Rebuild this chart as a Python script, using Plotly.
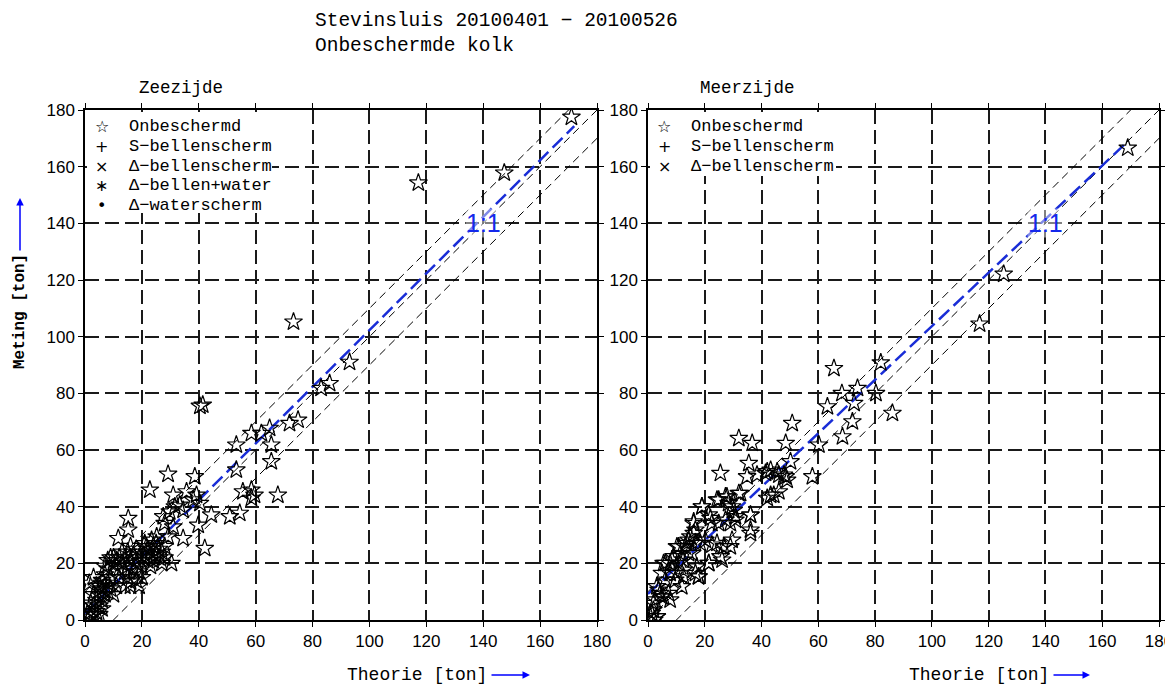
import plotly.graph_objects as go

# ---------------- data ----------------
# Zeezijde: Theorie [ton] vs Meting [ton]
zee_theorie = [171, 147.4, 117.2, 73.3, 41.4, 40.4, 93, 83, 86, 74.9, 71.9, 64.9, 62, 58.5, 53.2, 65.5,
               53.2, 65.5, 29.2, 38.6, 22.8, 31, 35.7, 39.2, 55.5, 58.5, 59.6, 58.5, 67.8, 33.3, 38, 40.4,
               44.4, 50.9, 54.4, 39.8, 42.1, 15.2, 15.2, 11.7, 27.5, 29.8, 31.6, 34.5, 28, 31, 29.2, 34.5,
               30.4, 25.2, 23.4, 21.6, 16,
               5, 6, 7, 7, 8, 9, 8, 10, 10, 11, 12, 12, 13, 13, 14, 14, 15, 15, 16, 16, 17, 17, 18, 18,
               19, 19, 20, 20, 21, 21, 22, 22, 23, 23, 24, 24, 25, 25, 26, 26, 27, 27, 28, 28, 12, 14, 15,
               16, 11, 9, 10, 18, 19, 20,
               1, 2, 2, 3, 3, 4, 4, 5, 5, 6, 6, 7, 3, 4, 2, 1, 5, 6, 7, 8, 8, 9, 1.5, 3]
zee_meting = [177.5, 157.8, 154.3, 105.2, 75.9, 75.5, 91, 81.8, 83.5, 70.6, 69.4, 67.7, 65.9, 65.9, 61.8, 61.8,
              53, 55.9, 51.5, 50.6, 45.9, 44.1, 45.3, 44.1, 45.3, 45.9, 44.1, 43, 44.1, 40.6, 42.4, 41.2,
              37.1, 36.5, 37.7, 33.5, 25.3, 35.9, 31.8, 28.8, 36.5, 38.2, 40, 38.8, 34.1, 32.9, 29.4, 28.8,
              20, 29.4, 28.2, 25.9, 13.5,
              12, 14, 16, 19, 21, 22, 18, 20, 22, 21, 18, 22, 20, 24, 17, 22, 19, 24, 21, 26, 18, 23, 20, 25,
              22, 17, 24, 19, 22, 27, 21, 25, 23, 19, 26, 21, 23, 27, 22, 25, 24, 20, 26, 22, 15, 12, 15,
              12, 12, 15, 9, 14, 12, 15,
              0, 1, 3, 2, 5, 3, 7, 5, 9, 7, 11, 9, 9, 12, 6, 2, 2, 4, 12, 10, 13, 11, 13, 15]

# Meerzijde: Theorie [ton] vs Meting [ton]
meer_theorie = [169, 125.3, 116.8, 82, 65.5, 68.3, 73.8, 72.6, 80.3, 63.2, 72, 68.5, 86.1, 50.8, 32, 36.7,
                48.5, 60.2, 50.2, 57.9, 25.5, 35.5, 34.9, 38.4, 41.4, 43.2, 46.1, 48.5, 42, 44.3, 36.1, 36.1,
                32, 29.6, 27.8, 24.9, 27.3, 30.8, 19, 21.4, 22.5, 24.9, 24.3, 26.1, 29.6, 29, 16.1, 16.1,
                14.3, 16.7, 13.1, 15.5, 10.8, 8.4, 6.1, 10.8, 7.8, 12.5, 17.8, 21.4, 3.7, 4.9, 1.9, 1.3,
                3.1, 9.6, 11.9, 7.2,
                42, 45.5, 47.9, 49, 24.3, 27.3, 28.4, 30.2, 32.6, 30.8, 29, 22, 19, 16.1, 16.7, 14.9, 13.7,
                18.4, 20.2, 36.1, 36.1, 43.2, 46.1, 26.7, 25.5, 22.5, 10.2, 11.4, 9, 12.5, 14.3, 7.8, 5.5,
                4.9, 6.1, 10.2, 12.5, 16.7, 17.8, 17.2, 21.4, 3.1, 4.3, 2.5, 5.5, 7.8, 1.9, 0.8, 3.1, 2.2]
meer_meting = [166.6, 122.1, 104.5, 90.8, 88.8, 80, 81.8, 76.5, 80, 75.3, 70, 64.7, 73, 69.4, 64.1, 62.4,
               62.4, 61.8, 55.9, 50.6, 51.8, 55.3, 50.6, 51.2, 51.8, 52.9, 51.2, 50.6, 43, 44.1, 30.6, 37.1,
               44.7, 40, 43.5, 42.4, 35.3, 35.3, 40, 37.1, 34.1, 34.1, 27.1, 21.2, 28.2, 25.9, 34.1, 30.6,
               28.2, 27.1, 25.9, 23.5, 25.9, 21.2, 20, 20, 16.5, 17.6, 15.3, 20, 10.6, 8.2, 5.9, 2.4,
               1.2, 14.1, 11.8, 9.4,
               52.4, 52.4, 51.2, 49.4, 42.4, 43.5, 41.2, 38.8, 44.7, 36.5, 34.1, 35.9, 40, 34.7, 31.8, 29.4, 27.1,
               27.1, 28.2, 37, 31.8, 44.1, 45.3, 25.9, 22.4, 26.5, 25.9, 23.5, 22.4, 21.2, 23.5, 20, 20,
               16.5, 14.1, 16.5, 15.3, 16.5, 15.3, 18.8, 20, 11.8, 9.4, 7.1, 8.2, 7.1, 3.5, 1.2, 1.2, 0]

axis_ticks = [0, 20, 40, 60, 80, 100, 120, 140, 160, 180]
band_offsets = [10, 0, -10]          # reference lines y = x + offset
fit_zee = [2.3, 1.0, 172]             # intercept, slope, last Theorie value
fit_meer = [9.2, 0.945, 169]

legend_names = ["Onbeschermd", "S\u2212bellenscherm", "\u0394\u2212bellenscherm",
                "\u0394\u2212bellen+water", "\u0394\u2212waterscherm"]
legend_glyphs = ["\u2606", "+", "\u00d7", "\u2217", "\u2022"]

# ---------------- figure ----------------
# the page body has an 8px default margin; size the figure so it fits the window
PAGE_OFF = 8
W, H = 1173 - PAGE_OFF, 686 - PAGE_OFF
def fx(p):
    return (p - PAGE_OFF) / W
def fy(p):
    return 1 - (p - PAGE_OFF) / H

MONO = "Liberation Mono, Courier New, monospace"
SANS = "Liberation Sans, Arial, sans-serif"
BLUE = "rgb(25,45,215)"

fig = go.Figure()

def add_panel(xa, ya, xs, ys, fit):
    for off in band_offsets:
        fig.add_trace(go.Scatter(x=[0, 180], y=[0 + off, 180 + off], mode="lines",
                                 line=dict(color="black", width=1, dash="8px,5px"),
                                 xaxis=xa, yaxis=ya, showlegend=False, hoverinfo="skip"))
    b, a, xe = fit
    fig.add_trace(go.Scatter(x=[0, xe], y=[b, b + a * xe], mode="lines",
                             line=dict(color=BLUE, width=2.5, dash="14px,6px"),
                             xaxis=xa, yaxis=ya, showlegend=False, hoverinfo="skip"))
    fig.add_trace(go.Scatter(x=xs, y=ys, mode="markers",
                             marker=dict(symbol="star-open", size=13.5, color="black",
                                         line=dict(color="black", width=1.2)),
                             xaxis=xa, yaxis=ya, showlegend=False))

add_panel("x", "y", zee_theorie, zee_meting, fit_zee)
add_panel("x2", "y2", meer_theorie, meer_meting, fit_meer)

axis_common = dict(range=[0, 180], tickvals=axis_ticks, showgrid=True, gridcolor="#1a1a1a",
                   gridwidth=1.5, griddash="14px,6px", showline=True, linecolor="black", linewidth=1.5,
                   mirror="ticks", ticks="outside", ticklen=5, tickcolor="black", tickwidth=1,
                   tickfont=dict(family=SANS, size=17, color="black"), zeroline=False, fixedrange=True,
                   automargin=False, ticklabeloverflow="allow")

ydom = [fy(620), fy(110)]
fig.update_layout(
    width=W, height=H, margin=dict(l=0, r=0, t=0, b=0, pad=0, autoexpand=False),
    paper_bgcolor="white", plot_bgcolor="white", showlegend=False,
    xaxis=dict(domain=[fx(85), fx(597)], anchor="y", **axis_common),
    yaxis=dict(domain=ydom, anchor="x", **axis_common),
    xaxis2=dict(domain=[fx(648), fx(1159)], anchor="y2", **axis_common),
    yaxis2=dict(domain=ydom, anchor="x2", **axis_common),
)

anns = []
def text_ann(s, x, y, size, anchor="left", color="black", family=MONO, **kw):
    anns.append(dict(text=s, x=fx(x), y=fy(y), xref="paper", yref="paper", showarrow=False,
                     xanchor=anchor, yanchor="middle", font=dict(family=family, size=size, color=color), **kw))

text_ann("Stevinsluis 20100401 \u2212 20100526", 313, 21, 19.5)
text_ann("Onbeschermde kolk", 313, 46, 19.5)
text_ann("Zeezijde", 137, 88, 17.5)
text_ann("Meerzijde", 698, 88, 17.5)

# legend boxes (white) + entries
shapes = []
shapes.append(dict(type="rect", xref="paper", yref="paper", x0=fx(87), x1=fx(272), y0=fy(213), y1=fy(112),
                   fillcolor="white", line=dict(width=0), layer="above"))
shapes.append(dict(type="rect", xref="paper", yref="paper", x0=fx(650), x1=fx(836), y0=fy(176), y1=fy(112),
                   fillcolor="white", line=dict(width=0), layer="above"))
row_y = [127, 146.5, 166, 185.5, 205]
for i, (g, n) in enumerate(zip(legend_glyphs, legend_names)):
    text_ann(g, 101.5, row_y[i], 16, anchor="center", family="DejaVu Sans")
    text_ann(n, 126.5, row_y[i], 17)
for i, (g, n) in enumerate(zip(legend_glyphs[:3], legend_names[:3])):
    text_ann(g, 664, row_y[i], 16, anchor="center", family="DejaVu Sans")
    text_ann(n, 689, row_y[i], 17)

# 1:1 labels in data coordinates
for xr, yr in (("x", "y"), ("x2", "y2")):
    anns.append(dict(text="1:1", x=140, y=140, xref=xr, yref=yr, showarrow=False,
                     font=dict(family=SANS, size=25, color="rgb(20,40,235)"),
                     bgcolor="rgba(255,255,255,0.45)", borderpad=0))

# axis titles with blue arrows
text_ann("Theorie [ton]", 345, 675, 18)
text_ann("Theorie [ton]", 907, 675, 18)
for tip, tail in ((530, 490), (1090, 1052)):
    anns.append(dict(text="", x=fx(tip), y=fy(675), xref="paper", yref="paper", showarrow=True,
                     ax=tail - tip, ay=0, arrowhead=2, arrowsize=1, arrowwidth=1.5, arrowcolor="blue"))
anns.append(dict(text="<b>Meting [ton]</b>", x=fx(20), y=fy(312), xref="paper", yref="paper",
                 showarrow=False, textangle=-90, xanchor="center", yanchor="middle",
                 font=dict(family=MONO, size=16, color="black")))
anns.append(dict(text="", x=fx(20), y=fy(198), xref="paper", yref="paper", showarrow=True,
                 ax=0, ay=54, arrowhead=2, arrowsize=1, arrowwidth=1.5, arrowcolor="blue"))

fig.update_layout(annotations=anns, shapes=shapes)
fig.write_html("out.html")
